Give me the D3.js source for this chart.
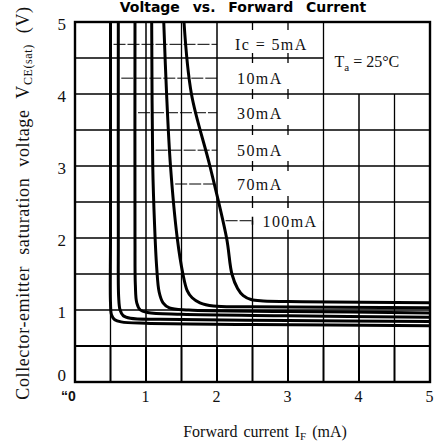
<!DOCTYPE html>
<html><head><meta charset="utf-8">
<script src="https://cdn.jsdelivr.net/npm/d3@7"></script>
<style>html,body{margin:0;padding:0;background:#fff;overflow:hidden}</style>
</head><body><svg id="c" width="442" height="447" xmlns="http://www.w3.org/2000/svg"></svg>
<script>
// ---- data ----
const xTickValues = [0, 1, 2, 3, 4, 5];
const xTickLabels = ["\u201C0", "1", "2", "3", "4", "5"];
const yTickValues = [0, 1, 2, 3, 4, 5];
const currentLabels = ["Ic = 5mA", "10mA", "30mA", "50mA", "70mA", "100mA"];
const labelVoltages = [4.69, 4.22, 3.74, 3.22, 2.75, 2.24];
// [forward current IF (mA), VCE(sat) (V)]
const curve5mA   = [[0.50,5.0],[0.50,2.0],[0.50,1.10],[0.515,0.93],[0.56,0.865],[0.65,0.835],[1.0,0.815],[2.5,0.80],[5.0,0.78]];
const curve10mA  = [[0.61,5.0],[0.61,2.0],[0.615,1.18],[0.635,1.0],[0.68,0.92],[0.78,0.885],[1.2,0.87],[3.0,0.855],[5.0,0.84]];
const curve30mA  = [[0.845,5.0],[0.845,2.0],[0.85,1.35],[0.87,1.10],[0.92,1.0],[1.02,0.965],[1.5,0.94],[3.0,0.92],[5.0,0.90]];
const curve50mA  = [[1.08,5.0],[1.095,3.0],[1.12,2.2],[1.15,1.6],[1.185,1.25],[1.24,1.10],[1.33,1.03],[1.6,1.0],[3.0,0.98],[5.0,0.96]];
const curve70mA  = [[1.25,5.0],[1.29,4.0],[1.345,3.0],[1.44,2.0],[1.52,1.5],[1.58,1.27],[1.65,1.17],[1.76,1.10],[1.95,1.055],[2.5,1.045],[5.0,1.03]];
const curve100mA = [[1.535,5.0],[1.64,4.0],[1.90,3.0],[2.135,2.0],[2.21,1.5],[2.29,1.3],[2.37,1.2],[2.48,1.145],[2.65,1.125],[3.2,1.115],[5.0,1.10]];
const curves = [curve5mA, curve10mA, curve30mA, curve50mA, curve70mA, curve100mA];

// ---- chart ----
const svg = d3.select("#c");
const x = d3.scaleLinear().domain([0, 5]).range([75, 430]);
const y = d3.scaleLinear().domain([0, 5]).range([382, 22]);
const serif = "'Liberation Serif','Times New Roman',serif";

// grid
const gridG = svg.append("g").attr("stroke", "#000").attr("fill", "none");
function seg(x1, y1, x2, y2, w) {
  gridG.append("line").attr("x1", x1).attr("y1", y1).attr("x2", x2).attr("y2", y2).attr("stroke-width", w);
}
const half = d3.range(1, 10).map(k => k / 2);
half.forEach(v => {
  seg(x(v), y(0), x(v), y(0.5), 2);
  let top = 5;
  if (v === 2.5 || v === 3) top = 2.5;
  if (v === 4 || v === 4.5) top = 4;
  seg(x(v), y(0.5), x(v), y(top), Number.isInteger(v) ? 1.5 : 1.3);
});
half.forEach(h => {
  const right = h === 4.5 ? 3.5 : 5;
  seg(x(0), y(h), x(right), y(h), h === 0.5 ? 2 : (Number.isInteger(h) ? 1.5 : 1.3));
});
[2.5, 3].forEach(v => {
  [4.5, 4, 3.5, 3].forEach(h => seg(x(v), y(h) - 5, x(v), y(h) + 5, 1.3));
  seg(x(v), y(5), x(v), y(5) + 8, 1.3);
  seg(x(v), y(2.5) - 6, x(v), y(2.5), 1.3);
});

// white backing behind the 100mA label
svg.append("rect").attr("x", x(2.5) - 2).attr("y", y(2.5) + 6).attr("width", 72)
   .attr("height", y(labelVoltages[5]) - y(2.5) - 6).attr("fill", "#fff");
svg.append("rect").attr("x", x(2.5) + 3).attr("y", y(labelVoltages[5])).attr("width", 66)
   .attr("height", 9).attr("fill", "#fff");

// frame
svg.append("rect").attr("x", x(0)).attr("y", y(5)).attr("width", x(5) - x(0)).attr("height", y(0) - y(5))
   .attr("fill", "none").attr("stroke", "#000").attr("stroke-width", 2.4);

// curves
const line = d3.line().x(d => x(d[0])).y(d => y(d[1])).curve(d3.curveCatmullRom.alpha(0.5));
svg.append("g").selectAll("path").data(curves).join("path")
   .attr("d", line).attr("fill", "none").attr("stroke", "#000").attr("stroke-width", 3)
   .attr("stroke-linejoin", "round");

// leader lines
function ifAt(curve, v) {
  for (let i = 0; i < curve.length - 1; i++) {
    const a = curve[i], b = curve[i + 1];
    if (v <= a[1] && v >= b[1]) return a[0] + (b[0] - a[0]) * (a[1] - v) / (a[1] - b[1]);
  }
  return curve[0][0];
}
const leaders = svg.append("g").attr("fill", "none").attr("stroke", "#000");
labelVoltages.forEach((v, i) => {
  const x0 = x(ifAt(curves[i], v)) + 3;
  const x1 = i < 5 ? x(2.0) : x(2.5);
  leaders.append("line").attr("x1", x0).attr("x2", x1).attr("y1", y(v)).attr("y2", y(v))
     .attr("stroke-width", 1).attr("stroke-dasharray", "12,2");
  if (i === 5) leaders.append("line").attr("x1", x1).attr("x2", x1).attr("y1", y(v) - 4).attr("y2", y(v) + 4)
     .attr("stroke-width", 1.5);
});

// current labels
svg.append("g").selectAll("text").data(currentLabels).join("text")
   .attr("x", (d, i) => i === 0 ? x(2.0) + 18 : (i < 5 ? x(2.0) + 20 : x(2.5) + 10))
   .attr("y", (d, i) => y(labelVoltages[i]) + 5.8)
   .attr("font-family", serif).attr("font-size", 16).attr("letter-spacing", 1.4).attr("fill", "#111")
   .text(d => d);

// Ta label
const ta = svg.append("text").attr("x", x(3.5) + 11).attr("y", y(4.5) + 8.5)
   .attr("font-family", serif).attr("font-size", 16).attr("fill", "#111");
ta.append("tspan").text("T");
ta.append("tspan").attr("font-size", 11).attr("dy", 4).text("a");
ta.append("tspan").attr("dy", -4).text(" = 25\u00B0C");

// axes tick labels
const xAxis = svg.append("g").attr("transform", `translate(0,${y(0)})`)
   .call(d3.axisBottom(x).tickValues(xTickValues).tickFormat((d, i) => xTickLabels[i]).tickSize(0).tickPadding(9));
xAxis.select(".domain").remove();
xAxis.selectAll("text").attr("font-family", serif).attr("font-size", 16).attr("fill", "#111").attr("dx", -1);
xAxis.selectAll("text").filter((d, i) => i === 0)
   .attr("font-family", "'Liberation Sans',Arial,sans-serif").attr("font-weight", "bold").attr("font-size", 14).attr("dx", -7);

const yAxis = svg.append("g").attr("transform", `translate(${x(0)},0)`)
   .call(d3.axisLeft(y).tickValues(yTickValues).tickFormat(d3.format("d")).tickSize(0).tickPadding(9));
yAxis.select(".domain").remove();
yAxis.selectAll("text").attr("font-family", serif).attr("font-size", 17).attr("fill", "#111")
   .attr("dy", (d) => d === 0 ? "-0.1em" : "0.42em");

// axis titles
const xt = svg.append("text").attr("x", 265).attr("y", 437).attr("text-anchor", "middle")
   .attr("font-family", serif).attr("font-size", 16).attr("fill", "#111")
   .attr("word-spacing", 2);
xt.append("tspan").text("Forward current I");
xt.append("tspan").attr("font-size", 11).attr("dy", 3).text("F");
xt.append("tspan").attr("dy", -3).text("  (mA)");

const yt = svg.append("text").attr("transform", "translate(29,203) rotate(-90)").attr("text-anchor", "middle")
   .attr("font-family", serif).attr("font-size", 18).attr("fill", "#111")
   .attr("letter-spacing", 0.6).attr("word-spacing", 6);
yt.append("tspan").text("Collector-emitter saturation voltage V");
yt.append("tspan").attr("font-size", 12).attr("dy", 3).text("CE(sat)");
yt.append("tspan").attr("dy", -3).text(" (V)");

// chart title (kept fully visible in the thin strip above the plot)
svg.append("text").attr("x", 243).attr("y", 12).attr("text-anchor", "middle")
   .attr("font-family", "'DejaVu Sans','Liberation Sans',sans-serif").attr("font-weight", 900).attr("font-size", 14)
   .attr("fill", "#000").attr("word-spacing", 8)
   .text("Voltage vs. Forward Current");
</script></body></html>
